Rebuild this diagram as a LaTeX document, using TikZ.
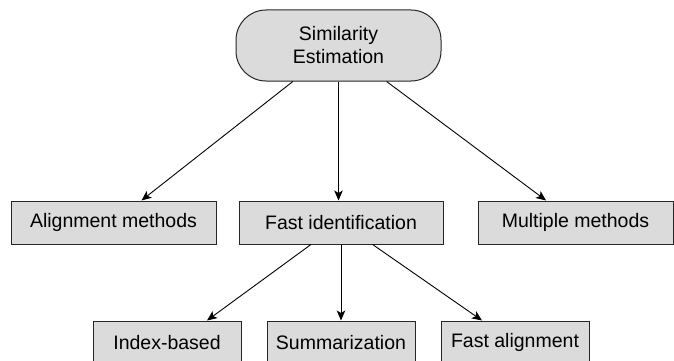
\documentclass[tikz,border=0pt]{standalone}
\usepackage{fontspec}
\setmainfont{Liberation Sans}
\usepackage{tikz}
\usetikzlibrary{arrows.meta}
\usepackage{xcolor}
\definecolor{boxfill}{HTML}{DBDBDB}
\definecolor{boxline}{HTML}{262626}

\begin{document}
\begin{tikzpicture}[x=1pt,y=-1pt,>={Stealth[length=10pt,width=8.5pt,inset=2.5pt]},
  every node/.style={font=\fontsize{19.5}{24}\selectfont},
  root/.style={draw=boxline,line width=1pt,fill=boxfill,rounded corners=30pt,
    minimum width=205pt,minimum height=71pt,align=center,inner sep=0pt},
  cat/.style={draw=boxline,line width=1pt,fill=boxfill,minimum height=43pt,
    inner sep=0pt,align=center},
  link/.style={->,line width=0.9pt}]

\useasboundingbox (0,0) rectangle (674,361);

% y coordinates for the three levels
\def\ytop{45.5}
\def\ymid{222.5}
\def\ybot{342.5}

% root of the tree
\node[root] (sim) at (338.5,\ytop) {Similarity\\[-1pt]Estimation};

% first level
\node[cat,minimum width=205pt] (align) at (113.5,\ymid) {Alignment methods};
\node[cat,minimum width=204pt] (fastid) at (341,\ymid) {Fast identification};
\node[cat,minimum width=195pt] (multi) at (575.5,\ymid) {Multiple methods};

% second level, under fast identification
\node[cat,minimum width=148pt] (index) at (167,\ybot) {Index-based};
\node[cat,minimum width=148pt] (summ) at (341,\ybot) {Summarization};
\node[cat,minimum width=148pt] (fastal) at (515,\ybot) {Fast alignment};

% arrows from the root
\draw[link] (sim) -- (align);
\draw[link] (sim.south) -- (sim.south |- fastid.north);
\draw[link] (sim) -- (multi);

% arrows from fast identification
\draw[link] (fastid) -- ([xshift=40pt]index.north);
\draw[link] (fastid) -- (summ);
\draw[link] (fastid) -- ([xshift=-33pt]fastal.north);

\end{tikzpicture}
\end{document}
